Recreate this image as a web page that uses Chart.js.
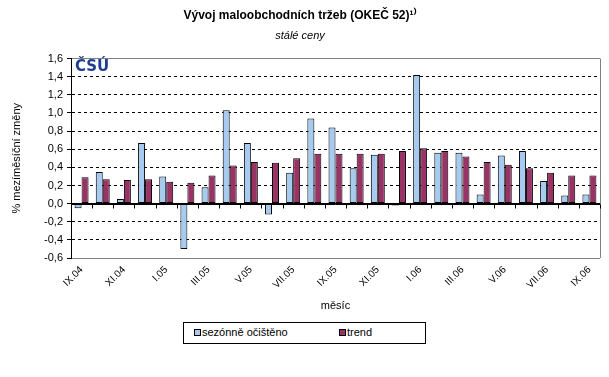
<!DOCTYPE html>
<html>
<head>
<meta charset="utf-8">
<script src="https://cdn.jsdelivr.net/npm/chart.js@4.4.0/dist/chart.umd.min.js"></script>
<style>
  html, body { margin: 0; padding: 0; background: #fff; }
  #wrap { position: relative; width: 609px; height: 377px; }
  #legend {
    position: absolute; left: 183px; top: 322px; width: 241px; height: 20px;
    border: 1px solid #000; background: #fff;
    font: 11px "Liberation Sans", Arial, sans-serif; color: #000;
  }
  #legend .item { position: absolute; top: 3px; white-space: nowrap; }
  #legend .box { display: inline-block; width: 5px; height: 5px; border: 1px solid #000; margin-right: 1px; }
</style>
</head>
<body>
<div id="wrap">
  <canvas id="myChart" width="609" height="377"></canvas>
  <div id="legend">
    <span class="item" style="left:10px"><span class="box" style="background:#A6CAF0"></span>sezónně očištěno</span>
    <span class="item" style="left:155px"><span class="box" style="background:#993366"></span>trend</span>
  </div>
</div>
<script>
// data
var months = ['IX.04', 'X.04', 'XI.04', 'XII.04', 'I.05', 'II.05', 'III.05', 'IV.05', 'V.05', 'VI.05',
    'VII.05', 'VIII.05', 'IX.05', 'X.05', 'XI.05', 'XII.05', 'I.06', 'II.06', 'III.06', 'IV.06',
    'V.06', 'VI.06', 'VII.06', 'VIII.06', 'IX.06'];
var sezonne = [-0.05, 0.35, 0.05, 0.67, 0.30, -0.50, 0.18, 1.03, 0.67, -0.12,
    0.34, 0.94, 0.84, 0.39, 0.54, -0.02, 1.42, 0.56, 0.56, 0.10,
    0.53, 0.58, 0.25, 0.09, 0.10];
var trend = [0.29, 0.27, 0.26, 0.27, 0.24, 0.23, 0.31, 0.42, 0.46, 0.45,
    0.50, 0.55, 0.55, 0.55, 0.55, 0.58, 0.61, 0.58, 0.52, 0.46,
    0.43, 0.39, 0.34, 0.31, 0.31];
var yMin = -0.6, yMax = 1.6, yStep = 0.2;

var FONT = '"Liberation Sans", Arial, sans-serif';

function isZero(v) { return Math.abs(v) < 1e-9; }
function isEdge(v) { return Math.abs(v - yMax) < 1e-9 || Math.abs(v - yMin) < 1e-9; }

// ramecek vpravo, carky na nulove ose, logo
var extras = {
    id: 'extras',
    beforeDatasetsDraw: function (chart) {
        var a = chart.chartArea, c = chart.ctx;
        c.save();
        c.strokeStyle = '#808080';
        c.lineWidth = 1;
        c.beginPath();
        c.moveTo(Math.round(a.right) + 0.5, a.top);
        c.lineTo(Math.round(a.right) + 0.5, a.bottom);
        c.stroke();
        c.restore();
    },
    afterDatasetsDraw: function (chart) {
        var x = chart.scales.x, y = chart.scales.y, c = chart.ctx;
        var y0 = Math.round(y.getPixelForValue(0)) + 0.5;
        c.save();
        c.strokeStyle = '#000';
        c.lineWidth = 1;
        c.beginPath();
        c.moveTo(chart.chartArea.left, y0);
        c.lineTo(chart.chartArea.right, y0);
        for (var i = 0; i <= months.length; i++) {
            var px = Math.round(x.getPixelForValue(i - 0.5)) + 0.5;
            c.moveTo(px, y0);
            c.lineTo(px, y0 + 4);
        }
        c.stroke();
        // logo CSU
        c.fillStyle = '#1F3E8E';
        c.font = 'bold 15px "DejaVu Sans", sans-serif';
        c.textBaseline = 'top';
        c.fillText('ČSÚ', chart.chartArea.left + 4, chart.chartArea.top + 1);
        c.restore();
    }
};

var ctx = document.getElementById('myChart').getContext('2d');
var myChart = new Chart(ctx, {
    type: 'bar',
    data: {
        labels: months,
        datasets: [{
            label: 'sezónně očištěno',
            data: sezonne,
            backgroundColor: '#A6CAF0',
            borderColor: '#000',
            borderWidth: 1,
            borderSkipped: false
        }, {
            label: 'trend',
            data: trend,
            backgroundColor: '#993366',
            borderColor: '#000',
            borderWidth: 1,
            borderSkipped: false
        }]
    },
    options: {
        responsive: false,
        animation: false,
        categoryPercentage: 0.66,
        barPercentage: 1.0,
        layout: { padding: { left: 0, right: 9, top: 0, bottom: 57 } },
        plugins: {
            legend: { display: false },
            tooltip: { enabled: false },
            title: {
                display: true,
                text: 'Vývoj maloobchodních tržeb (OKEČ 52)¹⁾',
                color: '#000',
                font: { family: FONT, size: 12, weight: 'bold' },
                padding: { top: 8, bottom: 7 }
            },
            subtitle: {
                display: true,
                text: 'stálé ceny',
                color: '#000',
                font: { family: FONT, size: 11, style: 'italic' },
                padding: { top: 0, bottom: 16 }
            }
        },
        scales: {
            x: {
                grid: { display: false, drawTicks: false },
                border: { display: false },
                ticks: {
                    autoSkip: false,
                    maxRotation: 45,
                    minRotation: 45,
                    padding: 6,
                    color: '#000',
                    font: { family: FONT, size: 10 },
                    callback: function (v, i) { return i % 2 === 0 ? this.getLabelForValue(v) : ''; }
                },
                title: {
                    display: true,
                    text: 'měsíc',
                    color: '#000',
                    font: { family: FONT, size: 11 },
                    padding: { top: 2, bottom: 7 }
                },
                afterFit: function (scale) { scale.height = 62; }
            },
            y: {
                min: yMin,
                max: yMax,
                ticks: {
                    stepSize: yStep,
                    padding: 4,
                    color: '#000',
                    font: { family: FONT, size: 11 },
                    callback: function (v) { return v.toFixed(1).replace('.', ','); }
                },
                grid: {
                    color: function (c) {
                        if (c.tick && isEdge(c.tick.value)) return '#808080';
                        return '#000';
                    },
                    tickColor: '#000',
                    tickLength: 4,
                    tickBorderDash: [0, 0]
                },
                border: {
                    display: true,
                    color: '#000',
                    width: 1,
                    dash: function (c) {
                        if (c.tick && (isZero(c.tick.value) || isEdge(c.tick.value))) return [];
                        return [3, 3];
                    }
                },
                title: {
                    display: true,
                    text: '% mezíměsíční změny',
                    color: '#000',
                    font: { family: FONT, size: 11 },
                    padding: { top: 10, bottom: 0 }
                },
                afterFit: function (scale) { scale.width = 71; }
            }
        }
    },
    plugins: [extras]
});
</script>
</body>
</html>
